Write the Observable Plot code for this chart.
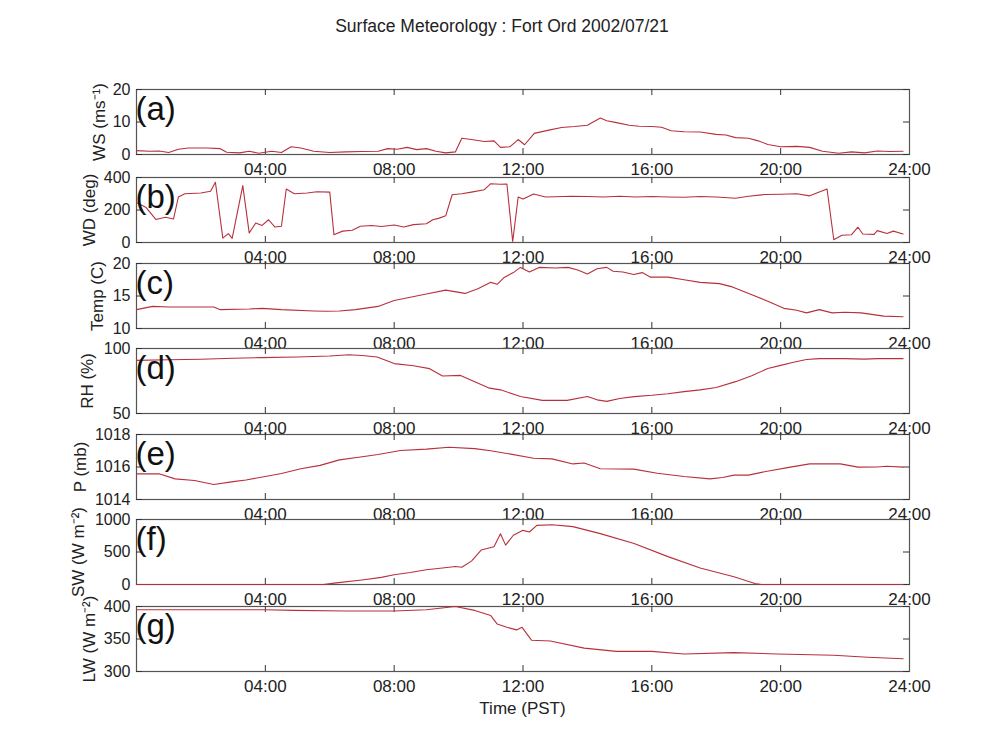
<!DOCTYPE html>
<html><head><meta charset="utf-8">
<script src="https://cdn.jsdelivr.net/npm/d3@7"></script>
<script src="https://cdn.jsdelivr.net/npm/@observablehq/plot@0.6"></script>
<style>
body{margin:0;background:#fff;}
#wrap{position:relative;width:986px;height:742px;font-family:"Liberation Sans",Arial,sans-serif;color:#222;overflow:hidden}
#title{position:absolute;top:16px;left:9px;width:986px;text-align:center;font-size:17.5px}
#xlabel{position:absolute;top:699px;left:136px;width:773px;text-align:center;font-size:17px}
.panel{position:absolute;left:0}
</style></head><body>
<div id="wrap"><div id="title">Surface Meteorology : Fort Ord 2002/07/21</div><div id="xlabel">Time (PST)</div></div>
<script>
// ---- data (hour of day, value) ----
const wsData = [[0,1.2],[0.4,1.0],[0.7,1.1],[1.0,0.6],[1.3,1.6],[1.6,2.0],[2.2,2.0],[2.6,1.8],[2.8,0.7],[3.2,0.5],[3.5,1.0],[3.8,0.4],[4.2,1.0],[4.5,0.6],[4.8,2.4],[5.1,2.0],[5.5,1.0],[6.0,0.6],[6.5,0.8],[7.0,0.9],[7.5,1.0],[7.8,1.8],[8.1,1.6],[8.4,2.2],[8.7,1.5],[9.0,1.8],[9.3,1.0],[9.6,0.5],[9.9,0.8],[10.1,5.0],[10.4,4.6],[10.8,4.0],[11.1,4.2],[11.3,2.2],[11.6,2.4],[11.85,4.6],[12.05,3.0],[12.35,6.5],[12.8,7.5],[13.2,8.3],[13.6,8.6],[14.0,9.0],[14.4,11.2],[14.6,10.4],[14.9,9.8],[15.3,9.0],[15.6,8.7],[16.0,8.6],[16.3,8.4],[16.6,7.3],[17.0,7.0],[17.5,6.9],[18.0,6.2],[18.3,6.0],[18.6,5.2],[19.0,5.0],[19.3,4.2],[19.6,3.1],[20.0,2.4],[20.5,2.5],[20.9,2.2],[21.3,1.0],[21.8,0.4],[22.2,0.8],[22.6,0.5],[23.0,1.1],[23.4,0.9],[23.8,1.0]];
const wdData = [[0,246],[0.3,215],[0.6,142],[0.9,155],[1.15,145],[1.3,280],[1.5,300],[2.0,305],[2.3,315],[2.45,371],[2.68,27],[2.85,55],[2.97,25],[3.3,350],[3.5,58],[3.7,120],[3.9,105],[4.1,140],[4.3,95],[4.5,100],[4.65,329],[4.9,300],[5.3,305],[5.6,312],[6.0,310],[6.13,48],[6.4,70],[6.7,75],[6.95,100],[7.3,105],[7.6,98],[8.0,108],[8.3,95],[8.6,110],[9.0,115],[9.2,140],[9.4,150],[9.6,164],[9.8,294],[10.1,300],[10.4,310],[10.8,325],[11.0,362],[11.3,358],[11.5,360],[11.68,6],[11.85,280],[12.0,267],[12.33,298],[12.7,280],[13.0,282],[13.5,285],[14.0,283],[14.5,280],[15.0,285],[15.5,280],[16.0,283],[16.5,280],[17.0,278],[17.5,283],[18.0,280],[18.6,272],[19.0,285],[19.5,295],[20.0,297],[20.5,300],[20.9,287],[21.44,329],[21.65,17],[21.9,45],[22.2,48],[22.4,94],[22.55,52],[22.9,50],[23.0,73],[23.3,55],[23.5,70],[23.8,52]];
const tempData = [[0,12.9],[0.5,13.4],[1.0,13.3],[2.0,13.3],[2.4,13.3],[2.6,12.9],[3.5,13.0],[3.9,13.1],[4.5,12.9],[5.5,12.7],[5.9,12.65],[6.3,12.7],[6.8,12.9],[7.5,13.4],[8.0,14.3],[8.5,14.8],[9.0,15.3],[9.6,15.9],[10.2,15.4],[10.6,16.1],[11.0,17.1],[11.2,16.8],[11.4,17.8],[11.7,18.6],[11.92,19.4],[12.2,18.7],[12.5,19.4],[13.0,19.3],[13.4,19.4],[13.7,19.0],[14.0,18.4],[14.3,19.2],[14.6,19.4],[14.8,18.8],[15.1,18.7],[15.44,18.3],[15.7,18.6],[15.96,17.9],[16.5,17.9],[17.0,17.5],[17.5,17.1],[18.1,16.9],[18.5,16.4],[18.95,15.5],[19.6,14.2],[20.1,13.1],[20.5,12.8],[20.8,12.4],[21.2,12.9],[21.6,12.4],[22.0,12.5],[22.5,12.4],[23.2,11.9],[23.8,11.8]];
const rhData = [[0,90.9],[1,91.3],[2,91.7],[3,92.5],[3.85,93.0],[5,93.5],[6,94.2],[6.6,95.2],[7,94.6],[7.47,93.5],[8,88.4],[8.6,86.7],[9.1,84.5],[9.5,78.8],[10.06,79.3],[10.5,74.5],[10.96,69.5],[11.3,68.2],[11.92,63.1],[12.6,60.1],[13.37,60.1],[14.0,63.1],[14.3,60.5],[14.6,59.3],[15.0,61.5],[15.45,63],[16.0,64],[16.5,65.2],[17.0,66.8],[17.5,68.2],[18.0,70],[18.6,74.5],[19.1,79],[19.6,84.6],[20.0,87],[20.4,89.4],[20.8,91.5],[21.2,92.2],[22,92.2],[22.6,91.8],[23,92.2],[23.8,92.2]];
const pData = [[0,1015.58],[0.7,1015.58],[1.2,1015.27],[1.8,1015.17],[2.4,1014.92],[3.0,1015.1],[3.4,1015.2],[4.0,1015.42],[4.5,1015.6],[5.1,1015.89],[5.7,1016.1],[6.3,1016.44],[6.9,1016.6],[7.5,1016.77],[8.2,1017.02],[9.0,1017.1],[9.7,1017.22],[10.5,1017.13],[11.0,1017.0],[11.45,1016.85],[12.33,1016.54],[12.9,1016.5],[13.55,1016.19],[13.9,1016.25],[14.4,1015.89],[15.44,1015.87],[16.17,1015.62],[17.0,1015.42],[17.8,1015.27],[18.2,1015.35],[18.55,1015.5],[19.0,1015.5],[19.58,1015.74],[20.3,1015.99],[20.9,1016.19],[21.85,1016.19],[22.4,1015.99],[23.0,1016.0],[23.3,1016.05],[23.8,1015.99]];
const swData = [[0,0],[5.8,0],[6.2,25],[7.0,70],[7.6,110],[8.0,150],[8.5,185],[9.0,227],[9.5,255],[9.9,277],[10.1,265],[10.4,360],[10.7,530],[11.1,580],[11.3,780],[11.46,606],[11.7,758],[12.0,833],[12.2,808],[12.43,909],[12.9,920],[13.55,890],[14.4,783],[15.45,631],[16.5,429],[17.5,253],[18.55,120],[19.2,15],[19.4,0],[23.8,0]];
const lwData = [[0,395],[4,395],[4.9,394],[6.5,393],[8,393],[9,395],[9.9,400],[10.5,394],[11.0,386],[11.2,373],[11.5,368],[11.8,364],[11.97,368],[12.27,348],[12.85,347],[13.9,336],[14.9,331],[16,331],[17,327],[18.55,329],[19.9,327],[21.65,325],[22.7,322],[23.8,319.5]];

const panelLetters = ["(a)","(b)","(c)","(d)","(e)","(f)","(g)"];
const yLabels = ["WS (ms\u207B\u00B9)","WD (deg)","Temp (C)","RH (%)","P (mb)","SW (W m\u207B\u00B2)","LW (W m\u207B\u00B2)"];
const yDomains = [[0,20],[0,400],[10,20],[50,100],[1014,1018],[0,1000],[300,400]];
const yTickValues = [[0,10,20],[0,200,400],[10,15,20],[50,100],[1014,1016,1018],[0,500,1000],[300,350,400]];
const xTickLabels = [4,8,12,16,20,24];
const xInnerTicks = [4,8,12,16,20];
const series = [wsData,wdData,tempData,rhData,pData,swData,lwData];

// ---- layout ----
const panelTops = [89,177,263,348,434,519,606];
const labelOffsets = [-44,-54,-46,-56,-63,-65,-54];
const W = 986, mLeft = 136, mRight = 77;
const panelH = 65, mTop = 12, mBottom = 30, tick = 6;
const innerW = W - mLeft - mRight;
const lineColor = "#b8303c";
const fmt = d => String(d).padStart(2,"0") + ":00";
const wrap = document.getElementById("wrap");

series.forEach((data, i) => {
  const plot = Plot.plot({
    width: W, height: panelH + mTop + mBottom,
    marginLeft: mLeft, marginRight: mRight, marginTop: mTop, marginBottom: mBottom,
    x: {domain: [0, 24]},
    y: {domain: yDomains[i]},
    style: {background: "transparent", overflow: "visible", fontFamily: "'Liberation Sans', Arial, sans-serif", color: "#222"},
    marks: [
      Plot.frame({stroke: "#555", strokeWidth: 1.2}),
      Plot.axisX({ticks: xTickLabels, tickFormat: fmt, tickSize: 0, tickPadding: 8, fontSize: 17, label: null}),
      Plot.axisY({ticks: yTickValues[i], tickFormat: d => String(d), tickSize: 0, tickPadding: 6, fontSize: 16, label: null}),
      // inward ticks (MATLAB style)
      Plot.ruleX(xInnerTicks, {x: d => d, insetTop: panelH - tick, stroke: "#333"}),
      Plot.ruleX(xInnerTicks, {x: d => d, insetBottom: panelH - tick, stroke: "#333"}),
      Plot.ruleY(yTickValues[i], {y: d => d, insetRight: innerW - tick, stroke: "#333"}),
      Plot.ruleY(yTickValues[i], {y: d => d, insetLeft: innerW - tick, stroke: "#333"}),
      Plot.lineY(data, {x: d => d[0], y: d => d[1], stroke: lineColor, strokeWidth: 1.1}),
      Plot.text([panelLetters[i]], {frameAnchor: "top-left", text: d => d, dx: -1, dy: 7, lineAnchor: "top", textAnchor: "start", fontSize: 33, fill: "#111"}),
      Plot.text([yLabels[i]], {frameAnchor: "left", text: d => d, rotate: -90, dx: labelOffsets[i], lineAnchor: "top", textAnchor: "middle", fontSize: 17, fill: "#222"})
    ]
  });
  plot.classList.add("panel");
  plot.style.top = (panelTops[i] - mTop) + "px";
  wrap.appendChild(plot);
});
</script>
</body></html>
